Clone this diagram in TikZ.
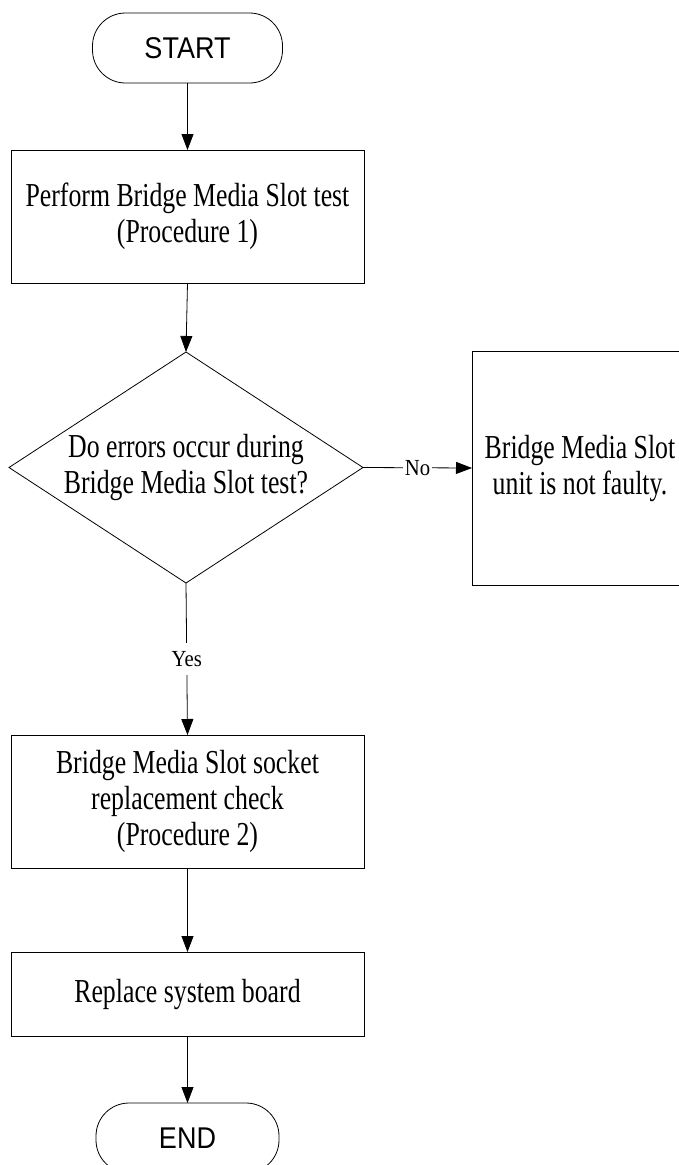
\documentclass[tikz,border=0pt]{standalone}
\usepackage{fontspec}
\setmainfont{Liberation Serif}[FakeStretch=0.77]
\newfontfamily\termfont{Liberation Sans}[FakeStretch=0.9]
\newfontfamily\labfont{Liberation Serif}[FakeStretch=0.9]
\usetikzlibrary{shapes.geometric,arrows.meta}
\begin{document}
\begin{tikzpicture}[x=1pt,y=-1pt,
  every node/.style={inner sep=0pt, outer sep=0pt},
  line/.style={line width=0.8pt, draw=black},
  arr/.style={line, -{Triangle[length=16pt,width=12pt]}},
  proc/.style={draw, line width=0.8pt, minimum width=353pt, align=center,
    font=\fontsize{33.5}{36}\selectfont},
  term/.style={draw, line width=0.8pt, rounded corners=33pt, minimum height=70pt,
    font=\termfont\fontsize{30}{32}\selectfont},
  dec/.style={draw, line width=0.8pt, diamond, minimum width=354pt, minimum height=231pt},
  dectext/.style={align=center, font=\fontsize{33.5}{36}\selectfont},
  lab/.style={fill=white, inner xsep=2pt, inner ysep=8pt, font=\labfont\fontsize{23}{24}\selectfont}
]
\clip (0,0) rectangle (679,1165);
\fill[white] (0,0) rectangle (679,1165);

\node[term, minimum width=190pt] (start) at (187.5,48) {START};
\node[proc, minimum height=133pt] (b1) at (187.5,216.5) {Perform Bridge Media Slot test\\(Procedure 1)};
\node[dec] (d) at (186,467.5) {};
\node[dectext] (dt) at (d.center) {Do errors occur during\\Bridge Media Slot test?};
\node[proc, minimum width=216pt, minimum height=234pt] (nf) at (580,468) {Bridge Media Slot\\unit is not faulty.};
\node[proc, minimum height=133pt] (b3) at (187.5,801.5) {Bridge Media Slot socket\\replacement check\\(Procedure 2)};
\node[proc, minimum height=84pt] (b4) at (187.5,994) {Replace system board};
\node[term, minimum width=183pt] (end) at (187.5,1138) {END};

\draw[arr] (start.south) -- (b1.north);
\draw[arr] (b1.south) -- (d.north);
\draw[arr] (d.east) -- node[lab, inner ysep=2pt] (no) {No} (nf.west);
\draw[arr] (d.south) -- node[lab, pos=0.5] (yes) {Yes} (b3.north);
\draw[arr] (b3.south) -- (b4.north);
\draw[arr] (b4.south) -- (end.north);
\end{tikzpicture}
\end{document}
